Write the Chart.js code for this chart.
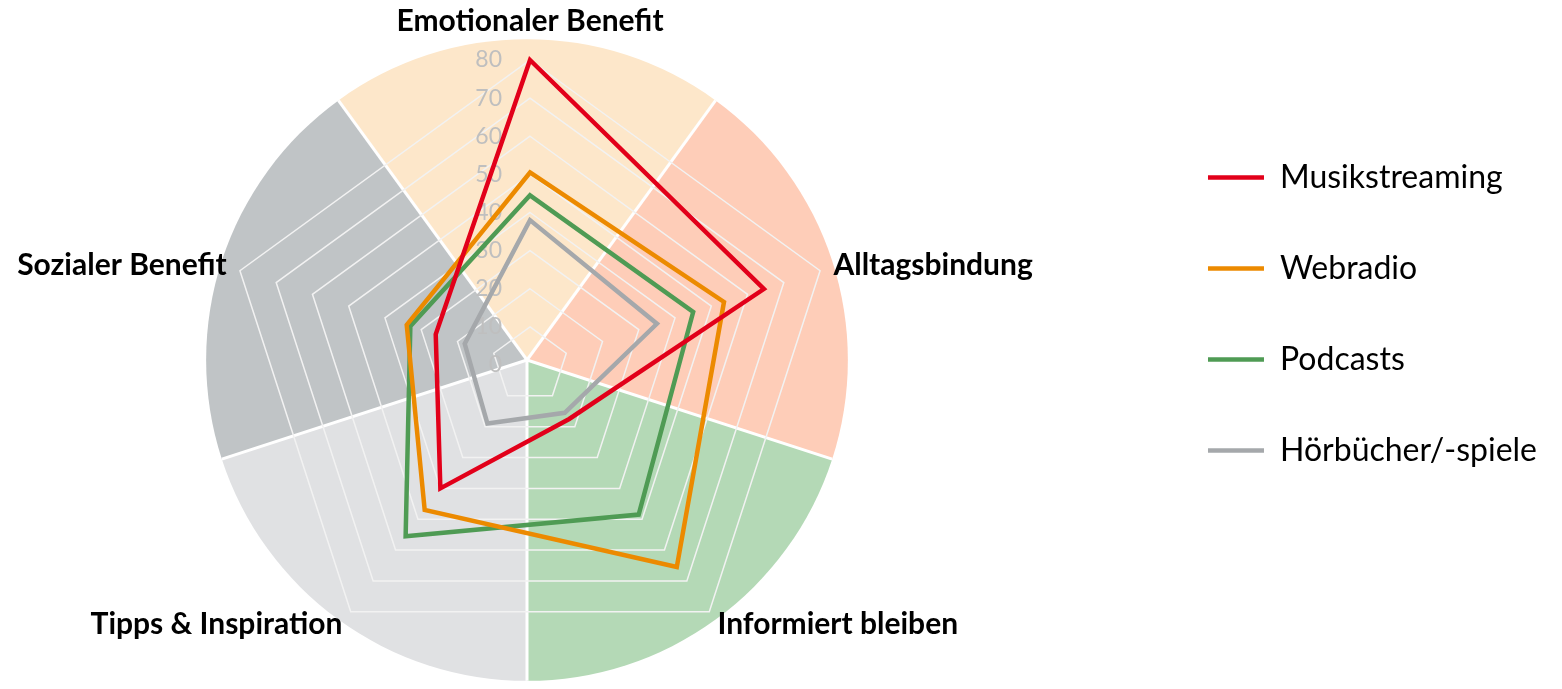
<!DOCTYPE html>
<html>
<head>
<meta charset="utf-8">
<script src="https://cdn.jsdelivr.net/npm/chart.js@4.4.1/dist/chart.umd.min.js"></script>
<style>
  html, body { margin: 0; padding: 0; background: #fff; overflow: hidden; }
  /* canvas bleeds off the left edge so the radar sits left of the chart area centre */
  #myChart { position: absolute; left: -88px; top: 0; }
</style>
</head>
<body>
<canvas id="myChart" width="1635" height="690"></canvas>
<script>
// chart data
const categories = ["Emotionaler Benefit", "Alltagsbindung", "Informiert bleiben", "Tipps & Inspiration", "Sozialer Benefit"];
const musikstreaming = [80, 64.5, 17.5, 40, 26];
const webradio = [50.5, 53.5, 65.5, 47, 34];
const podcasts = [44.5, 45, 48.5, 55.5, 33];
const hoerbuecher = [38, 35, 15.5, 19, 18];
const scaleMax = 80;
const scaleStep = 10;

// one background sector per category
const sectorColors = ["#fde7ca", "#fecdb8", "#b4d9b6", "#e0e1e3", "#c0c4c6"];

const sectorPlugin = {
  id: "sectors",
  beforeDraw(chart) {
    const s = chart.scales.r;
    const ctx = chart.ctx;
    // the backdrop circle is slightly off the radar centre in the original
    const cx = s.xCenter - 3;
    const cy = s.yCenter - 5;
    const R = s.drawingArea * 1.052;
    const half = Math.PI / categories.length;
    ctx.save();
    for (let i = 0; i < categories.length; i++) {
      const mid = s.getIndexAngle(i) - Math.PI / 2;
      ctx.beginPath();
      ctx.moveTo(cx, cy);
      ctx.arc(cx, cy, R, mid - half, mid + half);
      ctx.closePath();
      ctx.fillStyle = sectorColors[i];
      ctx.fill();
    }
    ctx.strokeStyle = "#ffffff";
    ctx.lineWidth = 3;
    for (let i = 0; i < categories.length; i++) {
      const a = s.getIndexAngle(i) - Math.PI / 2 - half;
      ctx.beginPath();
      ctx.moveTo(cx, cy);
      ctx.lineTo(cx + Math.cos(a) * R, cy + Math.sin(a) * R);
      ctx.stroke();
    }
    ctx.restore();
  }
};

// tick labels sit left of the vertical axis, like the original
const tickPlugin = {
  id: "tickLabels",
  beforeDatasetsDraw(chart) {
    const s = chart.scales.r;
    const ctx = chart.ctx;
    ctx.save();
    ctx.font = "23px Lato";
    ctx.fillStyle = "#bfbfbf";
    ctx.textAlign = "right";
    ctx.textBaseline = "middle";
    s.ticks.forEach(t => {
      const d = s.getDistanceFromCenterForValue(t.value);
      ctx.fillText(t.label, s.xCenter - 28, s.yCenter - d);
    });
    ctx.restore();
  }
};

function series(label, data, color) {
  return {
    label: label,
    data: data,
    borderColor: color,
    backgroundColor: color,
    borderWidth: 4.5,
    borderJoinStyle: "miter",
    borderCapStyle: "round",
    fill: false,
    pointRadius: 0,
    pointHoverRadius: 0
  };
}

new Chart(document.getElementById("myChart"), {
  type: "radar",
  data: {
    labels: categories,
    datasets: [
      series("Musikstreaming", musikstreaming, "#e2001a"),
      series("Webradio", webradio, "#ec8a00"),
      series("Podcasts", podcasts, "#4f9b54"),
      series("Hörbücher/-spiele", hoerbuecher, "#a5a8ab")
    ]
  },
  options: {
    responsive: false,
    animation: false,
    layout: { padding: 0 },
    scales: {
      r: {
        min: 0,
        max: scaleMax,
        ticks: { stepSize: scaleStep, display: false },
        grid: { color: "#f2f2f2", lineWidth: 1.5 },
        angleLines: { display: false },
        pointLabels: {
          color: "#000",
          font: { family: "Lato", size: 30, weight: "bold", lineHeight: 0.1 },
          padding: (c) => (c.index === 0 ? 37 : 14)
        }
      }
    },
    plugins: {
      tooltip: { enabled: false },
      legend: {
        position: "right",
        align: "start",
        title: { display: true, text: "", padding: { top: 0, bottom: 88 } },
        labels: {
          usePointStyle: true,
          pointStyle: "line",
          pointStyleWidth: 56,
          padding: 59,
          color: "#000",
          font: { family: "Lato", size: 32 }
        }
      }
    }
  },
  plugins: [sectorPlugin, tickPlugin]
});
</script>
</body>
</html>
